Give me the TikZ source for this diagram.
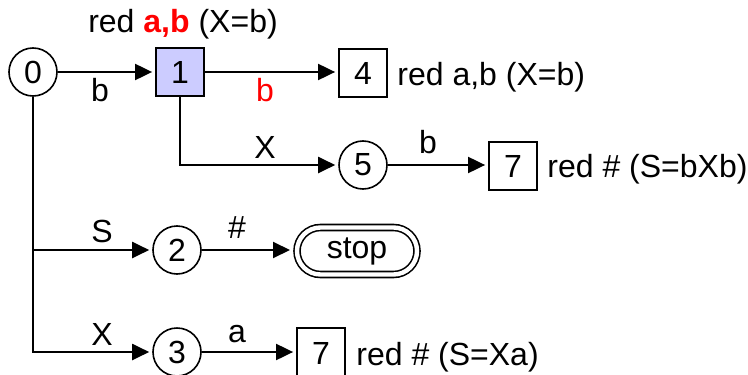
\documentclass[tikz,border=0pt]{standalone}
\usepackage{fontspec}
\setmainfont{Liberation Sans}
\usetikzlibrary{arrows.meta,shapes.misc}
\definecolor{boxfill}{RGB}{204,204,255}
\tikzset{
  every node/.style={font=\fontsize{16}{19}\selectfont, inner sep=0pt},
  st/.style={circle, draw, line width=0.8pt, minimum size=24pt},
  bx/.style={rectangle, draw, line width=0.9pt, minimum width=24pt, minimum height=24pt},
  lbl/.style={anchor=base},
  rlbl/.style={anchor=base west},
  conn/.style={line width=1pt, -{Triangle[length=8.5pt,width=8pt]}, shorten >=1.5pt},
  stopbox/.style={rounded rectangle, draw, double, line width=0.8pt, double distance=2.2pt,
     minimum width=60pt, minimum height=23.5pt, outer sep=2pt}
}
\begin{document}
\begin{tikzpicture}[x=0.5pt,y=-0.5pt]
\useasboundingbox (0,0) rectangle (748,374);
\begin{scope}
\clip (0,0) rectangle (748,374);
% nodes
\node[st] (n0) at (33,72) {0};
\node[bx, fill=boxfill] (n1) at (180,72) {1};
\node[bx] (n4) at (363,73) {4};
\node[st] (n5) at (363,165) {5};
\node[bx] (n7a) at (513,166) {7};
\node[st] (n2) at (177,250) {2};
\node[stopbox] (stop) at (357,251) {stop};
\node[st] (n3) at (177,352) {3};
\node[bx, minimum height=25pt] (n7b) at (321,353) {7};
% connectors
\draw[conn] (n0.east) -- (n0.east -| n1.west);
\draw[conn] (n1.east) -- (n1.east -| n4.west);
\draw[conn] (n1.south) |- (n5.west);
\draw[conn] (n5.east) -- (n5.east -| n7a.west);
\draw[conn] (n0.south) |- (n2.west);
\draw[conn] (n0.south) |- (n3.west);
\draw[conn] (n2.east) -- (n2.east -| stop.west);
\draw[conn] (n3.east) -- (n3.east -| n7b.west);
% labels
\node[lbl] (t1) at (183,33) {red \textcolor{red}{\textbf{a,b}} (X=b)};
\node[lbl] (l01) at (100,102) {b};
\node[lbl, text=red] (l14) at (265,102) {b};
\node[rlbl] (t4) at (397,85) {red a,b (X=b)};
\node[lbl] (l15) at (265,158) {X};
\node[lbl] (l57) at (428,153) {b};
\node[rlbl] (t7a) at (547,177) {red \# (S=bXb)};
\node[lbl] (l02) at (102,242) {S};
\node[lbl] (l2s) at (237,238) {\#};
\node[lbl] (l03) at (102,345) {X};
\node[lbl] (l37) at (237,342) {a};
\node[rlbl] (t7b) at (356,365) {red \# (S=Xa)};
\end{scope}
\end{tikzpicture}
\end{document}
